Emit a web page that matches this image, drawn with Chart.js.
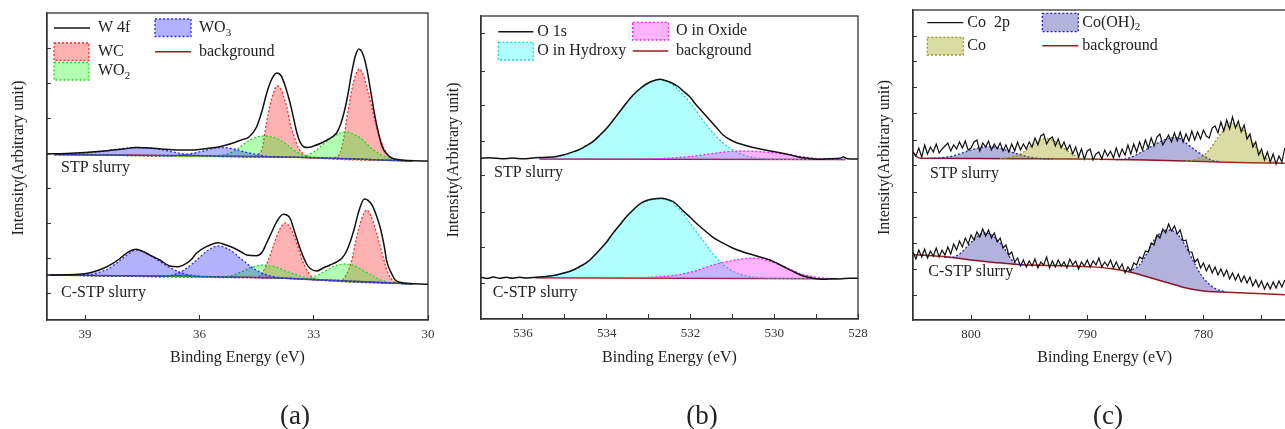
<!DOCTYPE html>
<html>
<head>
<meta charset="utf-8">
<script src="https://cdn.jsdelivr.net/npm/chart.js@4.4.1/dist/chart.umd.min.js"></script>
<style>
html, body { margin: 0; padding: 0; background: #fff; width: 1285px; height: 429px; overflow: hidden; position: relative; }
.panel { position: absolute; top: 0; height: 429px; }
canvas { display: block; }
</style>
</head>
<body>
<div class="panel" style="left:0;width:440px"><canvas id="chartA" width="440" height="429"></canvas></div>
<div class="panel" style="left:440px;width:430px"><canvas id="chartB" width="430" height="429"></canvas></div>
<div class="panel" style="left:870px;width:440px"><canvas id="chartC" width="440" height="429"></canvas></div>
<script>
// ---- texts ----
const xTitle = 'Binding Energy (eV)';
const yTitle = 'Intensity(Arbitrary unit)';
const sampleNames = ['STP slurry', 'C-STP slurry'];
const panelNames = ['(a)', '(b)', '(c)'];
const aNames = ['W 4f', 'WC', 'WO_2', 'WO_3', 'background'];
const bNames = ['O 1s', 'O in Hydroxy', 'O in Oxide', 'background'];
const cNames = ['Co  2p', 'Co', 'Co(OH)_2', 'background'];

// ---- ticks ----
const aXTicks = [39, 36, 33, 30];
const aXLabels = [39, 36, 33, 30];
const bXTicks = [536, 535, 534, 533, 532, 531, 530, 529, 528];
const bXLabels = [536, 534, 532, 530, 528];
const cXTicks = [800, 795, 790, 785, 780, 775];
const cXLabels = [800, 790, 780];
const aYTicks = [35, 70, 105, 140, 175, 210, 245, 280];
const bYTicks = [36, 71, 107, 143, 178, 214, 248, 286];
const cYTicks = [25, 51, 77, 103, 128, 154, 180, 206, 232, 258, 283];

// ---- (a) W 4f, [binding energy, intensity] ----
const aTopTotal = [[40.0,174],[39.5,174.5],[39.0,175.5],[38.5,177],[38.0,179],[37.66,180.5],[37.3,180],[37.0,179],[36.6,178],[36.3,178],[36.0,178.5],[35.8,179.5],[35.5,181],[35.2,184],[34.9,188],[34.7,191],[34.5,201],[34.35,218],[34.24,234],[34.1,249],[33.97,255],[33.85,252],[33.75,242],[33.62,225],[33.53,210],[33.44,195],[33.36,186],[33.25,181],[33.15,180.5],[33.0,182],[32.8,185],[32.6,189],[32.4,195],[32.3,203],[32.2,216],[32.1,234],[32.0,256],[31.9,273],[31.81,279],[31.7,273],[31.6,258],[31.5,236],[31.4,213],[31.3,195],[31.2,181],[31.08,174],[30.95,170],[30.8,168.5],[30.5,167.5],[30.0,167]];
const aTopBg = [[39.8,173.5],[33.5,170.8],[30.4,167]];
const aTopWCa = [[39.8,173.5],[34.6,171.5],[34.45,174],[34.35,180],[34.24,205],[34.15,222],[34.06,235],[33.95,242],[33.85,238],[33.8,233],[33.7,220],[33.62,205],[33.5,190],[33.4,180],[33.27,174],[33.1,171],[32.9,170],[30.4,167]];
const aTopWCb = [[39.8,173.5],[33.5,170.8],[32.6,169.8],[32.4,171],[32.3,176],[32.2,192],[32.13,210],[32.05,228],[32.0,238],[31.9,253],[31.8,259],[31.7,253],[31.61,241],[31.5,225],[31.39,207],[31.28,192],[31.17,181],[31.05,173],[30.9,169],[30.4,167]];
const aTopWO2a = [[39.8,173.5],[35.8,172.2],[35.5,172.5],[35.2,175],[35.0,179],[34.76,186],[34.55,190],[34.32,192],[34.1,191],[33.89,188],[33.7,183],[33.53,178],[33.35,174],[33.1,171.3],[32.8,170.2],[30.4,167]];
const aTopWO2b = [[39.8,173.5],[33.5,170.8],[33.3,171],[33.18,172.5],[33.0,176],[32.83,181],[32.65,187],[32.48,191.5],[32.3,195],[32.18,196],[32.0,194.5],[31.78,190],[31.6,184],[31.43,178],[31.25,173.5],[31.08,170.5],[30.9,168.5],[30.4,167]];
const aTopWO3a = [[39.8,173.5],[39.2,174.5],[38.7,176],[38.3,178],[38.0,179.5],[37.66,180.5],[37.3,180],[37.0,178.5],[36.7,176],[36.4,174],[36.0,172.5],[35.6,171.7],[33.5,170.8],[30.4,167]];
const aTopWO3b = [[39.8,173.5],[36.8,172.2],[36.5,173],[36.2,174.5],[35.9,177],[35.6,180],[35.4,180.5],[35.1,179],[34.8,176],[34.5,173.5],[34.2,171.5],[33.8,171],[33.5,170.8],[30.4,167]];

const aBotTotal = [[40.0,53],[39.5,53.2],[39.15,53.7],[38.9,55],[38.71,57],[38.5,60],[38.27,64.7],[38.1,69],[37.92,74.7],[37.66,78.7],[37.39,74.7],[37.2,71],[37.04,68],[36.78,62],[36.56,61.3],[36.34,64.7],[36.2,69],[36.08,74.7],[35.82,81.3],[35.51,85.3],[35.3,83],[35.11,80.3],[34.9,76],[34.76,73],[34.5,72.3],[34.35,76],[34.24,84.7],[34.1,96],[33.97,106.3],[33.8,113.7],[33.62,109.7],[33.5,96],[33.36,79.7],[33.2,65],[33.1,59.7],[32.92,57],[32.75,60],[32.57,63],[32.4,66],[32.26,69.7],[32.15,76],[32.04,86.3],[31.93,100],[31.82,116.3],[31.67,129],[31.47,123],[31.35,112],[31.25,99.7],[31.15,82],[31.08,66.3],[30.95,54],[30.86,48],[30.7,45.5],[30.55,44.7],[30.0,43.7]];
const aBotBg = [[39.9,53],[34.0,50],[30.4,44]];
const aBotWCa = [[39.9,53],[34.5,50.3],[34.35,55],[34.2,67],[34.05,83],[33.9,98],[33.75,105],[33.6,99],[33.45,85],[33.3,68],[33.15,56],[33.0,49.5],[32.8,48],[30.4,44]];
const aBotWCb = [[39.9,53],[34.0,50],[32.3,47.3],[32.15,53],[32.0,68],[31.9,86],[31.75,108],[31.61,118],[31.5,112],[31.35,95],[31.2,74],[31.05,55],[30.9,46.5],[30.7,44.6],[30.4,44]];
const aBotWO2a = [[39.9,53],[35.5,50.8],[35.2,52],[34.9,56],[34.6,61],[34.32,63],[34.0,61],[33.7,56.5],[33.4,52.5],[33.1,49.5],[32.8,48],[30.4,44]];
const aBotWO2b = [[39.9,53],[34.0,50],[33.2,49],[32.95,52],[32.7,57],[32.45,62],[32.2,64],[31.95,62.5],[31.7,57.5],[31.45,52],[31.2,47.5],[30.95,45.2],[30.4,44]];
const aBotWO3a = [[39.9,53],[39.0,53.3],[38.7,55],[38.4,59],[38.1,67],[37.9,73],[37.66,78],[37.4,75],[37.1,68],[36.8,61],[36.5,55.5],[36.2,52.5],[35.8,51.2],[34.0,50],[30.4,44]];
const aBotWO3b = [[39.9,53],[37.0,51.5],[36.7,53],[36.4,58],[36.1,67],[35.8,77],[35.51,82],[35.2,78],[34.9,69],[34.6,60],[34.3,54],[34.0,51],[33.6,49.5],[30.4,44]];

// ---- (b) O 1s ----
const bTopTotal = [[537.0,160.7],[536.8,161.2],[536.5,160.3],[536.24,160.9],[536.0,160.2],[535.7,161.2],[535.44,161.7],[535.2,162.6],[535.04,164],[534.85,166.5],[534.64,169.7],[534.5,173],[534.33,177.3],[534.17,183.5],[534.0,190.7],[533.85,198.5],[533.69,207.3],[533.53,216],[533.37,224],[533.2,230.5],[533.05,235],[532.9,238],[532.73,239.7],[532.6,238.5],[532.45,236.3],[532.3,232.5],[532.18,228.3],[532.0,221.5],[531.86,214],[531.7,206.5],[531.54,199],[531.38,191.5],[531.22,184],[531.06,179.5],[530.9,176.3],[530.66,173.3],[530.42,170.7],[530.15,168.5],[529.86,166.3],[529.6,164],[529.39,161.7],[529.15,160.5],[528.91,159.7],[528.7,160.2],[528.43,160.7],[528.35,162],[528.25,160.3],[528.0,160]];
const bTopBg = [[535.6,160],[528.3,159.5]];
const bTopHyd = [[535.6,160],[535.3,161.5],[535.0,164],[534.64,169.5],[534.33,177],[534.0,190.5],[533.69,207],[533.37,223.5],[533.05,234.5],[532.73,239.5],[532.45,235],[532.25,227.5],[531.94,212.5],[531.62,194],[531.3,179],[530.98,169],[530.66,163],[530.3,160.5],[530.0,159.9],[528.3,159.5]];
const bTopOx = [[535.6,160],[532.8,160.3],[532.3,161.5],[531.8,163.5],[531.3,166.5],[530.82,168],[530.4,167.5],[529.86,165.5],[529.4,162.5],[529.0,160.5],[528.5,159.7],[528.3,159.5]];

const bBotTotal = [[537.0,41.7],[536.85,40.5],[536.7,42],[536.56,40.7],[536.4,41.8],[536.25,40.8],[536.08,41.7],[535.9,41],[535.68,41.7],[535.45,42.5],[535.2,44],[535.0,46.2],[534.8,49],[534.64,52.5],[534.48,56.3],[534.33,62],[534.17,69],[534.0,77],[533.85,85.7],[533.69,94],[533.53,102.3],[533.37,109],[533.21,115],[533.05,118.5],[532.89,120],[532.69,120.7],[532.55,119.5],[532.41,117.3],[532.3,113.5],[532.18,108.3],[532.0,101.5],[531.86,95.7],[531.66,88.5],[531.46,81.7],[531.22,75.8],[530.98,70.7],[530.74,67],[530.5,64],[530.3,61.5],[530.1,59],[529.9,55],[529.7,50.7],[529.5,46.5],[529.31,43],[529.07,40.8],[528.83,39.7],[528.6,40.3],[528.43,40],[528.2,40.8],[528.0,40.7]];
const bBotBg = [[535.7,41.3],[528.5,40.2]];
const bBotHyd = [[535.7,41.3],[535.2,44],[534.8,49],[534.48,56],[534.17,69],[533.85,85.5],[533.53,102],[533.21,114.5],[532.89,119.5],[532.7,120],[532.45,117],[532.25,109],[531.94,92],[531.62,74],[531.3,57.5],[530.98,47.5],[530.66,43],[530.3,41.2],[530.0,40.8],[528.5,40.2]];
const bBotOx = [[535.7,41.3],[533.2,41.3],[532.7,42.5],[532.25,44.5],[531.85,48.5],[531.46,54],[531.0,58.5],[530.5,61],[530.2,59],[529.86,54],[529.6,49.5],[529.39,45.5],[529.1,42.5],[528.91,41.2],[528.5,40.2]];

// ---- (c) Co 2p ----
const coEnergy = [805,804.75,804.5,804.25,804,803.75,803.5,803.25,803,802.75,802.5,802.25,802,801.75,801.5,801.25,801,800.75,800.5,800.25,800,799.75,799.5,799.25,799,798.75,798.5,798.25,798,797.75,797.5,797.25,797,796.75,796.5,796.25,796,795.75,795.5,795.25,795,794.75,794.5,794.25,794,793.75,793.5,793.25,793,792.75,792.5,792.25,792,791.75,791.5,791.25,791,790.75,790.5,790.25,790,789.75,789.5,789.25,789,788.75,788.5,788.25,788,787.75,787.5,787.25,787,786.75,786.5,786.25,786,785.75,785.5,785.25,785,784.75,784.5,784.25,784,783.75,783.5,783.25,783,782.75,782.5,782.25,782,781.75,781.5,781.25,781,780.75,780.5,780.25,780,779.75,779.5,779.25,779,778.75,778.5,778.25,778,777.75,777.5,777.25,777,776.75,776.5,776.25,776,775.75,775.5,775.25,775,774.75,774.5,774.25,774,773.75,773.5,773.25,773];
const cTopCounts = [168,164,172,163, 175,166,173,168, 176,167,171,174, 177,169,175,171, 178,172,179,170, 172,178,180,169, 177,173,179,170, 176,171,177,169, 175,168,176,169, 178,170,176,171, 178,173,182,175, 184,186,176,181, 183,174,181,172, 178,170,175,166, 173,163,171,161, 169,171,160,166, 168,161,170,164, 169,162,172,163, 171,165,175,166, 176,168,178,170, 180,172,182,174, 183,186,175,180, 185,178,187,179, 188,178,186,179, 189,180,188,181, 190,184,182,192, 194,187,198,189, 200,191,203,192, 199,188,195,181, 186,173,178,165, 171,160,168,158, 166,156,164,158, 172];
const cBotCounts = [68,61,70,63, 71,62,69,64, 72,63,70,65, 73,66,76,70, 79,73,82,76, 85,80,88,83, 91,84,90,82, 87,78,82,72, 75,65,68,58, 62,54,60,53, 59,54,61,52, 58,55,63,52, 59,53,60,54, 58,52,61,55, 59,51,58,54, 60,53,59,55, 62,53,58,54, 60,52,58,51, 56,47,53,49, 57,55,63,61, 69,68,77,75, 85,82,91,87, 96,89,94,86, 90,79,80,68, 68,58,61,52, 57,49,55,47, 53,45,51,44, 50,41,47,40, 46,38,44,37, 43,34,40,33, 39,31,37,31, 38,32,39,33, 40];
const cTopBg = [[805,168],[804.7,163.5],[804.3,161.7],[795,161.2],[785,160],[780,158.5],[776,157.3],[773,156.7]];
const cTopCoA = [[797.5,161.3],[796.5,163],[795.5,168],[794.5,177],[793.6,181.5],[792.7,178],[791.8,170],[791,164],[790,161],[789,160.8]];
const cTopCoB = [[781.5,158.9],[781.0,159.5],[780.2,163],[779.5,170],[778.9,180],[778.4,188],[777.7,197],[777.0,194],[776.4,188],[775.9,180],[775.5,173],[774.9,165],[774.4,160],[773.8,157.5]];
const cTopOHA = [[803.5,161.6],[802,163],[801,166],[800,170],[799,173],[798.5,173.5],[798,173],[797,170],[796,166],[795,163],[794,161.5],[793,161]];
const cTopOHB = [[787.5,160.3],[786.7,161],[785.8,165],[785.0,170],[784.1,176],[783.3,180.5],[782.4,182.7],[781.8,180],[781.3,175],[780.6,169],[779.9,163.5],[779.2,159.5],[778.5,158.2]];
const cBotBg = [[805,65.5],[802,63],[800,60],[798,57.5],[796,55.5],[793,54.5],[790,53.3],[788,51.5],[786,47],[784.5,42],[783,37],[781.5,32],[780,29],[777,27.3],[773,25.3]];
const cBotOHA = [[802.3,62.7],[801.8,62.5],[801,66],[800.3,74],[799.6,82],[798.9,87],[798.2,85],[797.6,78],[797,69],[796.5,60],[796,56],[795.3,55.2]];
const cBotOHB = [[786.8,49.2],[786.2,50],[785.6,54],[785.2,60],[784.7,70],[784.3,79],[783.8,86],[783.2,90],[782.6,89],[782.1,84],[781.6,75],[781.1,64],[780.7,55],[780.2,45],[779.8,39],[779.0,31.5],[778.1,28.2]];

const SERIF = "'Liberation Serif', 'Times New Roman', serif";
Chart.defaults.font.family = SERIF;
Chart.defaults.color = '#333';

function pts(arr) { return arr.map(p => ({ x: p[0], y: p[1] })); }
function zipPts(xs, ys) { return xs.map((x, i) => ({ x: x, y: ys[i] })); }

function spectrum(data, width, smooth) {
    return { data: data, borderColor: '#111', borderWidth: width, pointRadius: 0, fill: false,
        cubicInterpolationMode: smooth ? 'monotone' : 'default', tension: 0 };
}
function peak(arr, color, fillColor, bgIndex) {
    return { data: pts(arr), borderColor: color, borderWidth: 1.3, borderDash: [2, 2],
        backgroundColor: fillColor, fill: { target: bgIndex }, pointRadius: 0, cubicInterpolationMode: 'monotone' };
}
function baseline(arr) {
    return { data: pts(arr), borderColor: '#9e1b1b', borderWidth: 1.5, pointRadius: 0, fill: false, cubicInterpolationMode: 'monotone' };
}

function xAxis(min, max, ticks, labels, h) {
    return {
        type: 'linear', min: min, max: max, reverse: true,
        afterBuildTicks: s => { s.ticks = ticks.map(v => ({ value: v })); },
        afterFit: s => { s.height = h; s.paddingLeft = 0; s.paddingRight = 0; },
        ticks: { callback: v => labels.includes(v) ? String(v) : '', font: { size: 13 }, color: '#333',
            padding: 12, maxRotation: 0, autoSkip: false },
        grid: { drawOnChartArea: false, tickLength: -5, color: '#333' },
        border: { color: '#333', width: 1.3 },
        title: { display: true, text: xTitle, font: { size: 16 }, color: '#222', padding: { top: 0, bottom: 62 } }
    };
}
function yAxis(min, max, ticks) {
    return {
        type: 'linear', min: min, max: max,
        afterBuildTicks: s => { s.ticks = ticks.map(v => ({ value: v })); },
        afterFit: s => { s.width = 0; s.paddingTop = 0; s.paddingBottom = 0; },
        ticks: { display: false },
        grid: { drawOnChartArea: false, tickLength: -4, color: '#333' },
        border: { color: '#333', width: 1.3 }
    };
}

function richText(ctx, s, x, y) {
    const parts = s.split('_');
    ctx.fillText(parts[0], x, y);
    if (parts[1]) {
        const w = ctx.measureText(parts[0]).width;
        const f = ctx.font;
        ctx.font = '11px ' + SERIF;
        ctx.fillText(parts[1], x + w, y + 5);
        ctx.font = f;
    }
}

// layout of the texts drawn over each chart
const decorLayout = {
    chartA: {
        names: aNames, panel: panelNames[0], panelPos: [295, 417], yTitlePos: [19, 158],
        samples: [[61, 168], [61, 293]],
        legend: [
            { ds: 0, type: 'line', x: 54, y: 28, w: 36, tx: 98 },
            { ds: 6, type: 'box', x: 54, y: 43, w: 35, h: 17.5, tx: 98 },
            { ds: 4, type: 'box', x: 54, y: 62.5, w: 35, h: 17.5, tx: 98 },
            { ds: 2, type: 'box', x: 155, y: 19, w: 36, h: 17.5, tx: 199 },
            { ds: 14, type: 'line', x: 155, y: 51.7, w: 36, tx: 199 }
        ]
    },
    chartB: {
        names: bNames, panel: panelNames[1], panelPos: [262, 417], yTitlePos: [14, 160],
        samples: [[54, 173], [52.7, 293]],
        legend: [
            { ds: 0, type: 'line', x: 58.3, y: 31.7, w: 35, tx: 97.3 },
            { ds: 3, type: 'box', x: 58.3, y: 42.3, w: 35, h: 17.7, tx: 97.3 },
            { ds: 2, type: 'box', x: 192.7, y: 22.3, w: 35.6, h: 17.7, tx: 236 },
            { ds: 6, type: 'line', x: 192.7, y: 51, w: 35.6, tx: 236 }
        ]
    },
    chartC: {
        names: cNames, panel: panelNames[2], panelPos: [238, 417], yTitlePos: [14.5, 157.5],
        samples: [[60, 174], [58.3, 272]],
        legend: [
            { ds: 0, type: 'line', x: 57.3, y: 22.7, w: 36, tx: 97.3 },
            { ds: 2, type: 'box', x: 57.3, y: 37.3, w: 36, h: 17.7, tx: 97.3 },
            { ds: 4, type: 'box', x: 172.3, y: 13.3, w: 36, h: 18.3, tx: 212.3 },
            { ds: 8, type: 'line', x: 172.3, y: 45.7, w: 36, tx: 212.3 }
        ]
    }
};

const decor = {
    id: 'decor',
    afterDraw(chart) {
        const o = decorLayout[chart.canvas.id];
        const ctx = chart.ctx, a = chart.chartArea;
        ctx.save();
        ctx.strokeStyle = '#333';
        ctx.lineWidth = 1.3;
        ctx.strokeRect(a.left, a.top, a.right - a.left, a.bottom - a.top);

        ctx.fillStyle = '#222';
        ctx.textBaseline = 'middle';
        ctx.font = '16px ' + SERIF;

        ctx.save();
        ctx.translate(o.yTitlePos[0], o.yTitlePos[1]);
        ctx.rotate(-Math.PI / 2);
        ctx.textAlign = 'center';
        ctx.fillText(yTitle, 0, 0);
        ctx.restore();

        ctx.textAlign = 'left';
        o.samples.forEach((p, i) => ctx.fillText(sampleNames[i], p[0], p[1]));

        o.legend.forEach((item, i) => {
            const ds = chart.data.datasets[item.ds];
            let ty = item.y;
            if (item.type === 'line') {
                ctx.setLineDash([]);
                ctx.strokeStyle = ds.borderColor;
                ctx.lineWidth = ds.borderWidth;
                ctx.beginPath();
                ctx.moveTo(item.x, item.y);
                ctx.lineTo(item.x + item.w, item.y);
                ctx.stroke();
            } else {
                ctx.fillStyle = ds.backgroundColor;
                ctx.fillRect(item.x, item.y, item.w, item.h);
                ctx.setLineDash(ds.borderDash);
                ctx.strokeStyle = ds.borderColor;
                ctx.lineWidth = ds.borderWidth;
                ctx.strokeRect(item.x, item.y, item.w, item.h);
                ty = item.y + item.h / 2;
            }
            ctx.fillStyle = '#222';
            richText(ctx, o.names[i], item.tx, ty);
        });

        ctx.font = '27px ' + SERIF;
        ctx.textAlign = 'center';
        ctx.fillText(o.panel, o.panelPos[0], o.panelPos[1]);
        ctx.restore();
    }
};

function makeChart(id, datasets, padding, xs, ys) {
    return new Chart(document.getElementById(id), {
        type: 'line',
        data: { datasets: datasets },
        options: {
            responsive: false, animation: false, events: [],
            layout: { padding: padding },
            scales: { x: xs, y: ys },
            plugins: { legend: { display: false }, tooltip: { enabled: false } }
        },
        plugins: [decor]
    });
}

// lower index is drawn later (on top): WO3 over WO2 over WC
const WC = ['#ff2a2a', 'rgba(255,0,0,0.3)'];
const WO2 = ['#1fd81f', 'rgba(0,255,0,0.3)'];
const WO3 = ['#2a2aff', 'rgba(0,0,255,0.3)'];
makeChart('chartA', [
    spectrum(pts(aTopTotal), 1.5, true),
    spectrum(pts(aBotTotal), 1.5, true),
    peak(aTopWO3a, WO3[0], WO3[1], 14), peak(aTopWO3b, WO3[0], WO3[1], 14),
    peak(aTopWO2a, WO2[0], WO2[1], 14), peak(aTopWO2b, WO2[0], WO2[1], 14),
    peak(aTopWCa, WC[0], WC[1], 14), peak(aTopWCb, WC[0], WC[1], 14),
    peak(aBotWO3a, WO3[0], WO3[1], 15), peak(aBotWO3b, WO3[0], WO3[1], 15),
    peak(aBotWO2a, WO2[0], WO2[1], 15), peak(aBotWO2b, WO2[0], WO2[1], 15),
    peak(aBotWCa, WC[0], WC[1], 15), peak(aBotWCb, WC[0], WC[1], 15),
    baseline(aTopBg), baseline(aBotBg)
], { left: 47, right: 12, top: 13, bottom: 0 },
    xAxis(30, 40, aXTicks, aXLabels, 109), yAxis(8, 315, aYTicks));

const HYD = ['#19d6d6', 'rgba(0,255,255,0.3)'];
const OX = ['#ff1aff', 'rgba(255,0,255,0.3)'];
makeChart('chartB', [
    spectrum(pts(bTopTotal), 1.5, true),
    spectrum(pts(bBotTotal), 1.5, true),
    peak(bTopOx, OX[0], OX[1], 6), peak(bTopHyd, HYD[0], HYD[1], 6),
    peak(bBotOx, OX[0], OX[1], 7), peak(bBotHyd, HYD[0], HYD[1], 7),
    baseline(bTopBg), baseline(bBotBg)
], { left: 41, right: 12, top: 16, bottom: 0 },
    xAxis(528, 537, bXTicks, bXLabels, 110), yAxis(0, 303, bYTicks));

const CO = ['#9a9a10', 'rgba(153,153,0,0.35)'];
const COOH = ['#2424b0', 'rgba(0,0,139,0.3)'];
makeChart('chartC', [
    spectrum(zipPts(coEnergy, cTopCounts), 1.2, false),
    spectrum(zipPts(coEnergy, cBotCounts), 1.2, false),
    peak(cTopCoA, CO[0], CO[1], 8), peak(cTopCoB, CO[0], CO[1], 8),
    peak(cTopOHA, COOH[0], COOH[1], 8), peak(cTopOHB, COOH[0], COOH[1], 8),
    peak(cBotOHA, COOH[0], COOH[1], 9), peak(cBotOHB, COOH[0], COOH[1], 9),
    baseline(cTopBg), baseline(cBotBg)
], { left: 43, right: 13.6, top: 10, bottom: 0 },
    xAxis(772, 805, cXTicks, cXLabels, 109), yAxis(0, 310, cYTicks));
</script>
</body>
</html>
